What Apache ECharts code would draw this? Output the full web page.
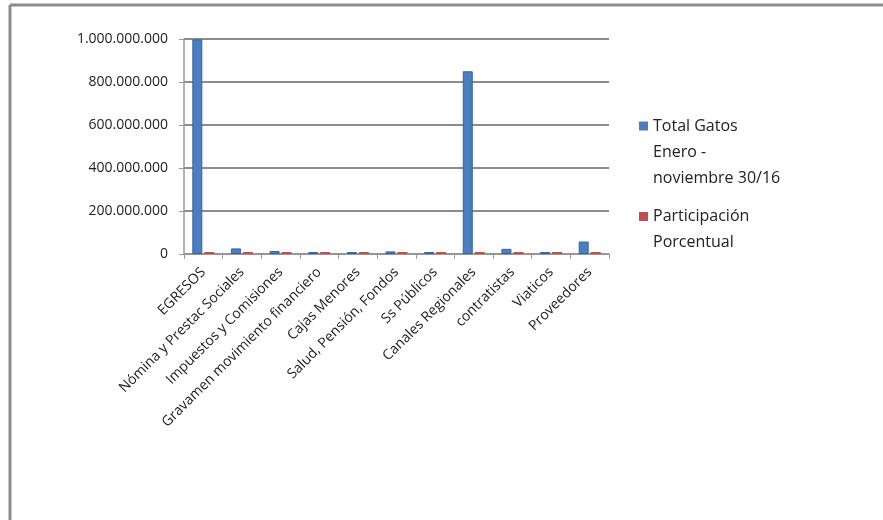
<!DOCTYPE html>
<html>
<head>
<meta charset="utf-8">
<script src="https://cdn.jsdelivr.net/npm/echarts@6/dist/echarts.min.js"></script>
<style>
  html, body { margin: 0; padding: 0; background: #fff; }
  #chart { width: 883px; height: 520px; }
</style>
</head>
<body>
<div id="chart"></div>
<script>
const categories = [
  'EGRESOS', 'Nómina y Prestac Sociales', 'Impuestos y Comisiones',
  'Gravamen movimiento financiero', 'Cajas Menores', 'Salud, Pensión, Fondos',
  'Ss Públicos', 'Canales Regionales', 'contratistas', 'Viaticos', 'Proveedores'
]
const totalGastos = [998000000, 26000000, 14000000, 2500000, 2500000, 12000000,
  9000000, 850000000, 24000000, 3500000, 58000000]
const participacion = [100, 2.6, 1.4, 0.25, 0.25, 1.2, 0.9, 85.2, 2.4, 0.35, 5.8]
const seriesNames = ['Total Gatos\nEnero -\nnoviembre 30/16', 'Participación\nPorcentual']

const fontFamily = 'Open Sans, Noto Sans, sans-serif'

// legend markers: a 9px square sitting next to the first text line,
// the extra moveTo points stretch the icon box to 61px so it stays centred
const legendIcons = [
  'path://M0,0h9v9h-9z M9,61',
  'path://M0,0 M9,61 M0,13h9v9h-9z'
]

const chart = echarts.init(document.getElementById('chart'))

const option = {
  animation: false,
  backgroundColor: '#fff',
  graphic: [
    { type: 'line', shape: { x1: 10, y1: 5, x2: 883, y2: 5 }, style: { stroke: '#8c8c8c', lineWidth: 3 } },
    { type: 'line', shape: { x1: 10, y1: 5, x2: 10, y2: 520 }, style: { stroke: '#8c8c8c', lineWidth: 3 } }
  ],
  legend: {
    orient: 'vertical',
    left: 634,
    top: 108,
    itemWidth: 9,
    itemHeight: 61,
    itemGap: 8,
    itemStyle: { borderWidth: 0 },
    textStyle: { fontFamily, fontSize: 16, color: '#222', lineHeight: 26 },
    data: [
      { name: seriesNames[0], icon: legendIcons[0] },
      { name: seriesNames[1], icon: legendIcons[1] }
    ]
  },
  grid: { left: 184, top: 39, width: 425, height: 215 },
  xAxis: {
    type: 'category',
    data: categories,
    axisLine: { lineStyle: { color: '#999', width: 1.5 } },
    axisTick: { show: true, lineStyle: { color: '#999' } },
    axisLabel: { rotate: 45, interval: 0, fontFamily, fontSize: 14, color: '#222', margin: 16 }
  },
  yAxis: {
    type: 'value',
    min: 0,
    max: 1000000000,
    interval: 200000000,
    axisLine: { show: true, lineStyle: { color: '#999', width: 1.5 } },
    axisTick: { show: true, lineStyle: { color: '#999' } },
    splitLine: { lineStyle: { color: '#8c8c8c', width: 2 } },
    axisLabel: {
      fontFamily, fontSize: 14, color: '#222', margin: 16,
      formatter: v => String(v).replace(/\B(?=(\d{3})+(?!\d))/g, '.')
    }
  },
  series: [
    {
      name: seriesNames[0],
      type: 'bar',
      data: totalGastos,
      barWidth: 10,
      barGap: '20%',
      barMinHeight: 2,
      itemStyle: { color: '#4a7ebf', borderColor: '#36659f', borderWidth: 1 }
    },
    {
      name: seriesNames[1],
      type: 'bar',
      data: participacion,
      barWidth: 10,
      barMinHeight: 2,
      itemStyle: { color: '#c0504d' }
    }
  ]
}

chart.setOption(option)
</script>
</body>
</html>
